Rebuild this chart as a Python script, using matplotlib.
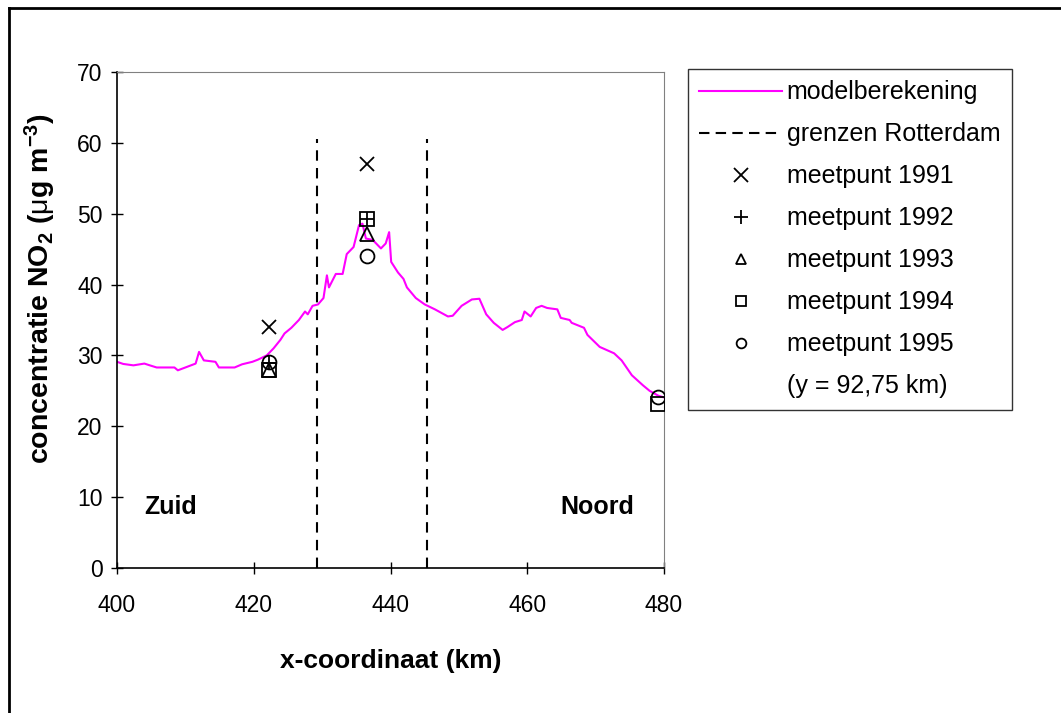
import numpy as np
import matplotlib.pyplot as plt
from matplotlib.lines import Line2D

plt.rcParams['font.family'] = ['Liberation Sans', 'DejaVu Sans']
plt.rcParams['mathtext.fontset'] = 'custom'
plt.rcParams['mathtext.rm'] = 'Liberation Sans'
plt.rcParams['mathtext.it'] = 'Liberation Sans'
plt.rcParams['mathtext.bf'] = 'Liberation Sans:bold'

# model line
model_x = [400.0, 400.9, 402.4, 404.0, 404.8, 405.8, 408.4, 408.9, 410.0, 411.5,
           412.0, 412.7, 414.4, 414.9, 417.2, 418.3, 419.8, 420.6, 421.9, 422.9,
           423.9, 424.5, 425.5, 426.6, 427.5, 427.9, 428.6, 429.4, 430.2, 430.7,
           431.0, 432.0, 433.0, 433.6, 434.6, 435.4, 435.9, 436.4, 437.4, 438.6,
           439.3, 439.8, 440.1, 441.1, 441.9, 442.4, 443.7, 445.0, 446.5, 448.4,
           449.1, 450.4, 451.9, 453.0, 454.0, 455.1, 456.4, 457.1, 458.2, 459.2,
           459.6, 460.5, 461.3, 462.1, 462.9, 464.4, 464.9, 466.2, 466.5, 468.3,
           468.8, 470.6, 472.7, 473.8, 475.3, 476.9, 477.9, 479.2, 479.9]
model_y = [29.1, 28.8, 28.6, 28.85, 28.6, 28.3, 28.3, 27.9, 28.3, 28.85,
           30.5, 29.3, 29.1, 28.3, 28.3, 28.75, 29.1, 29.4, 30.0, 31.0,
           32.2, 33.1, 33.9, 35.0, 36.2, 35.8, 37.0, 37.2, 38.1, 41.3,
           39.6, 41.5, 41.5, 44.3, 45.3, 48.4, 48.6, 46.5, 46.3, 45.1,
           45.8, 47.4, 43.2, 41.7, 40.8, 39.6, 38.1, 37.2, 36.5, 35.5,
           35.6, 37.0, 37.9, 38.0, 35.8, 34.6, 33.6, 34.0, 34.7, 35.0,
           36.2, 35.5, 36.7, 37.0, 36.7, 36.5, 35.3, 35.0, 34.6, 33.9,
           32.9, 31.2, 30.3, 29.3, 27.2, 25.8, 25.0, 24.3, 24.1]

# city borders
grens_x = [429.3, 445.3]
grens_top = 60.5

# measurement points
x1991 = [422.3, 436.6]
y1991 = [34, 57]
x1992 = [422.3, 436.6]
y1992 = [28.9, 49.2]
x1993 = [422.3, 436.6]
y1993 = [28.0, 47.1]
x1994 = [422.3, 436.6, 479.1]
y1994 = [28.0, 49.2, 23.1]
x1995 = [422.3, 436.6, 479.1]
y1995 = [29.1, 44.1, 24.1]

fig = plt.figure(figsize=(10.61, 7.13), dpi=100)
ax = fig.add_axes([117/1061, 1 - 568/713, 547/1061, 496/713])

ax.plot(model_x, model_y, color='#ff00ff', linewidth=1.5, zorder=2)
for gx in grens_x:
    ax.plot([gx, gx], [0, grens_top], color='black', linestyle=(0, (5, 3.5)),
            linewidth=1.5, zorder=3)

mk = dict(linestyle='none', color='black', markerfacecolor='none',
          markeredgewidth=1.3, markersize=10, zorder=4)
ax.plot(x1991, y1991, marker='x', **mk)
ax.plot(x1992, y1992, marker='+', **mk)
ax.plot(x1993, y1993, marker='^', **mk)
ax.plot(x1994, y1994, marker='s', **mk)
ax.plot(x1995, y1995, marker='o', **mk)

ax.set_xlim(400, 480)
ax.set_ylim(0, 70)
ax.set_xticks(range(400, 481, 20))
ax.set_yticks(range(0, 71, 10))
ax.tick_params(direction='inout', length=9, width=1, labelsize=16.5)
ax.tick_params(axis='x', pad=14)
ax.tick_params(axis='y', pad=6)
for s in ['top', 'right']:
    ax.spines[s].set_color('#808080')
for s in ['left', 'bottom']:
    ax.spines[s].set_linewidth(1.2)

ax.set_xlabel('x-coordinaat (km)', fontsize=19, fontweight='bold', labelpad=23)
ax.set_ylabel(r'concentratie NO$_\mathbf{2}$ ($\mu$g m$^{\mathbf{-3}}$)',
              fontsize=20.5, fontweight='bold')
ax.yaxis.set_label_coords(-59/547, (568 - 289)/496)

ax.text(404.0, 8.6, 'Zuid', fontsize=18, fontweight='bold', va='center', ha='left')
ax.text(475.7, 8.6, 'Noord', fontsize=18, fontweight='bold', va='center', ha='right')

base = {k: v for k, v in mk.items() if k not in ('zorder', 'markersize')}
handles = [
    Line2D([], [], color='#ff00ff', linewidth=1.5),
    Line2D([], [], color='black', linestyle=(0, (5, 3)), linewidth=1.5),
    Line2D([], [], marker='x', markersize=10, **base),
    Line2D([], [], marker='+', markersize=10, **base),
    Line2D([], [], marker='^', markersize=7, **base),
    Line2D([], [], marker='s', markersize=7, **base),
    Line2D([], [], marker='o', markersize=7, **base),
    Line2D([], [], linestyle='none'),
]
labels = ['modelberekening', 'grenzen Rotterdam', 'meetpunt 1991', 'meetpunt 1992',
          'meetpunt 1993', 'meetpunt 1994', 'meetpunt 1995', '(y = 92,75 km)']
leg = fig.legend(handles, labels, loc='upper left', bbox_to_anchor=(688/1061, 1 - 69/713),
                 fontsize=18, frameon=True, fancybox=False, handlelength=3.3,
                 handletextpad=0.2, labelspacing=0.72, borderpad=0.45, borderaxespad=0)
leg.get_frame().set_edgecolor('black')
leg.get_frame().set_linewidth(1.0)

# outer frame (left and top only)
fig.add_artist(Line2D([9/1061, 9/1061], [0, 1 - 8/713], color='black', linewidth=2,
                      transform=fig.transFigure))
fig.add_artist(Line2D([9/1061, 1], [1 - 8/713, 1 - 8/713], color='black', linewidth=2,
                      transform=fig.transFigure))

fig.savefig('out.png', dpi=100)
